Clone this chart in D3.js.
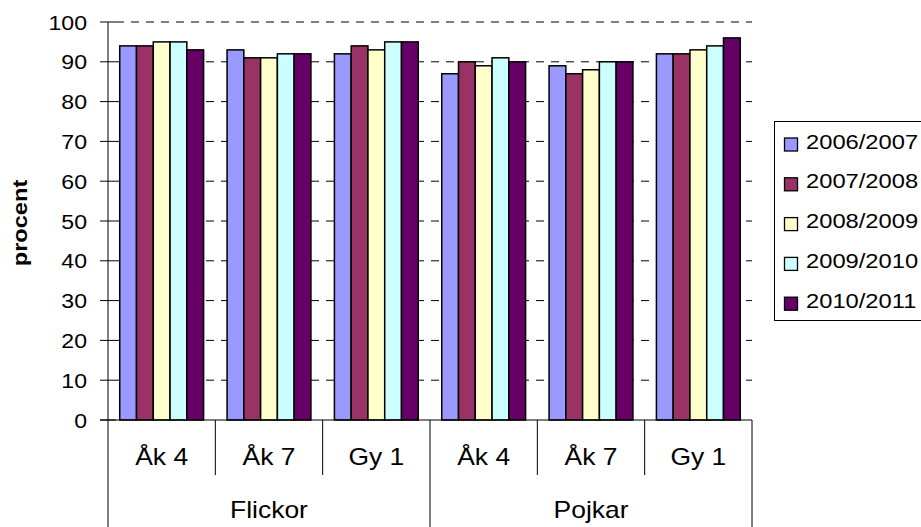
<!DOCTYPE html>
<html>
<head>
<meta charset="utf-8">
<script src="https://cdn.jsdelivr.net/npm/d3@7"></script>
<style>
  body { margin: 0; background: #fff; }
  svg { display: block; font-family: Arial, "Liberation Sans", sans-serif; }
</style>
</head>
<body>
<svg width="921" height="527"></svg>
<script>
var groups = ["Flickor", "Pojkar"];
var grades = ["Åk 4", "Åk 7", "Gy 1"];
var years = ["2006/2007", "2007/2008", "2008/2009", "2009/2010", "2010/2011"];
var colors = ["#9999FF", "#993366", "#FFFFCC", "#CCFFFF", "#660066"];
var yTicks = [0, 10, 20, 30, 40, 50, 60, 70, 80, 90, 100];

// one row per grade, one value per school year
var flickorValues = [
    [94, 94, 95, 95, 93],
    [93, 91, 91, 92, 92],
    [92, 94, 93, 95, 95]
];
var pojkarValues = [
    [87, 90, 89, 91, 90],
    [89, 87, 88, 90, 90],
    [92, 92, 93, 94, 96]
];

var categories = [];
groups.forEach(function(g, gi) {
    var vals = gi === 0 ? flickorValues : pojkarValues;
    grades.forEach(function(gr, i) {
        categories.push({ id: g + "-" + gr, group: g, grade: gr, values: vals[i] });
    });
});

var svg = d3.select("svg");
var plotLeft = 108, plotRight = 752, plotTop = 22, plotBottom = 420;

// text that is a bit wider than the font, like the original export
function stretchedText(sel, px, py, size, sx, anchor, str) {
    return sel.append("text")
        .attr("transform", "translate(" + px + "," + py + ") scale(" + sx + ",1)")
        .attr("text-anchor", anchor)
        .attr("font-size", size)
        .attr("fill", "#000")
        .text(str);
}

var x = d3.scaleBand()
    .domain(categories.map(function(d) { return d.id; }))
    .range([plotLeft, plotRight]);

var xInner = d3.scaleBand()
    .domain(years)
    .range([0, x.bandwidth()])
    .paddingOuter(0.7)
    .paddingInner(0);

var y = d3.scaleLinear().domain([0, 100]).range([plotBottom, plotTop]);

// dashed gridlines
svg.append("g")
    .selectAll("line")
    .data(yTicks.filter(function(t) { return t > 0; }))
    .enter().append("line")
    .attr("x1", plotLeft + 8)
    .attr("x2", plotRight)
    .attr("y1", function(d) { return y(d); })
    .attr("y2", function(d) { return y(d); })
    .attr("stroke", "#000")
    .attr("stroke-width", 1)
    .attr("stroke-dasharray", "8,7");

// y axis
var yg = svg.append("g");
yg.append("line")
    .attr("x1", plotLeft).attr("x2", plotLeft)
    .attr("y1", plotTop).attr("y2", plotBottom)
    .attr("stroke", "#000");
yTicks.forEach(function(t) {
    yg.append("line")
        .attr("x1", plotLeft - 8).attr("x2", plotLeft + 8)
        .attr("y1", y(t)).attr("y2", y(t))
        .attr("stroke", "#000");
    stretchedText(yg, 87, y(t) + 7.5, 21, 1.1, "end", t);
});

// bars
var cat = svg.append("g")
    .selectAll("g")
    .data(categories)
    .enter().append("g")
    .attr("transform", function(d) { return "translate(" + x(d.id) + ",0)"; });

cat.selectAll("rect")
    .data(function(d) {
        return d.values.map(function(v, i) { return { year: years[i], value: v, color: colors[i] }; });
    })
    .enter().append("rect")
    .attr("x", function(d) { return xInner(d.year); })
    .attr("width", xInner.bandwidth())
    .attr("y", function(d) { return y(d.value); })
    .attr("height", function(d) { return plotBottom - y(d.value); })
    .attr("fill", function(d) { return d.color; })
    .attr("stroke", "#000")
    .attr("stroke-width", 1.5);

// x axis baseline
svg.append("line")
    .attr("x1", plotLeft - 8).attr("x2", plotRight)
    .attr("y1", plotBottom).attr("y2", plotBottom)
    .attr("stroke", "#000");

// category separators
var axisG = svg.append("g");
categories.forEach(function(d, i) {
    if (i === 0) return;
    var isGroupEdge = i % grades.length === 0;
    axisG.append("line")
        .attr("x1", x(d.id)).attr("x2", x(d.id))
        .attr("y1", plotBottom).attr("y2", isGroupEdge ? 527 : 475)
        .attr("stroke", "#000");
});
[plotLeft, plotRight].forEach(function(px) {
    axisG.append("line")
        .attr("x1", px).attr("x2", px)
        .attr("y1", plotBottom).attr("y2", 527)
        .attr("stroke", "#000");
});

// grade labels
categories.forEach(function(d) {
    stretchedText(axisG, x(d.id) + x.bandwidth() / 2, 465, 23, 1.15, "middle", d.grade);
});

// group labels
var groupWidth = x.bandwidth() * grades.length;
groups.forEach(function(g, i) {
    stretchedText(axisG, plotLeft + groupWidth * i + groupWidth / 2, 518, 23, 1.15, "middle", g);
});

// y axis title
svg.append("text")
    .attr("transform", "translate(27,223) rotate(-90) scale(1.18,1)")
    .attr("text-anchor", "middle")
    .attr("font-size", 20)
    .attr("font-weight", "bold")
    .text("procent");

// legend
var legend = svg.append("g");
legend.append("rect")
    .attr("x", 774.5).attr("y", 121.5)
    .attr("width", 160).attr("height", 199)
    .attr("fill", "#fff")
    .attr("stroke", "#000");

years.forEach(function(yr, i) {
    var cy = 141 + i * 39.8;
    legend.append("rect")
        .attr("x", 784.5).attr("y", cy - 3)
        .attr("width", 13).attr("height", 13)
        .attr("fill", colors[i])
        .attr("stroke", "#000")
        .attr("stroke-width", 1.3);
    stretchedText(legend, 806, cy + 7.5, 21, 1.13, "start", yr);
});
</script>
</body>
</html>
